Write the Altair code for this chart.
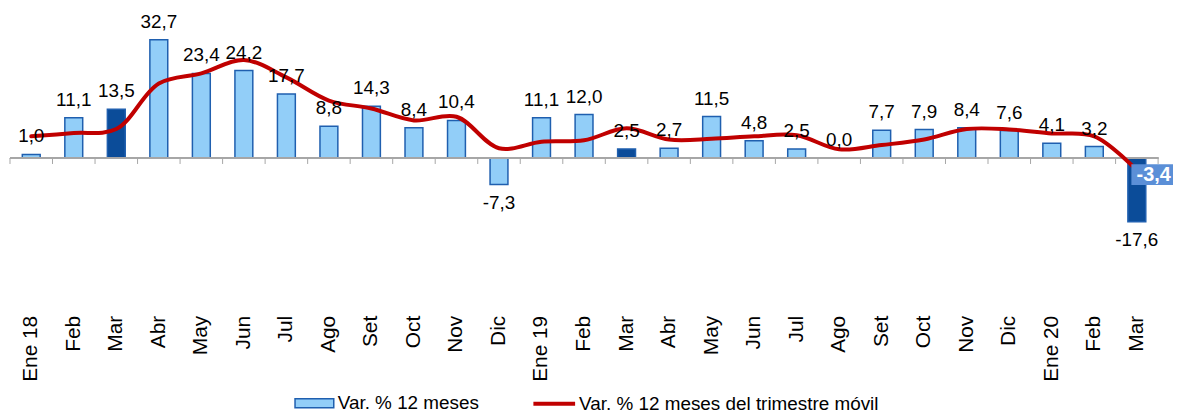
import json
import altair as alt
import pandas as pd

labels = ["Ene 18", "Feb", "Mar", "Abr", "May", "Jun", "Jul", "Ago", "Set", "Oct", "Nov", "Dic",
          "Ene 19", "Feb", "Mar", "Abr", "May", "Jun", "Jul", "Ago", "Set", "Oct", "Nov", "Dic",
          "Ene 20", "Feb", "Mar"]
var12 = [1.0, 11.1, 13.5, 32.7, 23.4, 24.2, 17.7, 8.8, 14.3, 8.4, 10.4, -7.3,
         11.1, 12.0, 2.5, 2.7, 11.5, 4.8, 2.5, 0.0, 7.7, 7.9, 8.4, 7.6,
         4.1, 3.2, -17.6]
trim = [6.0, 6.9, 8.0, 20.6, 23.4, 27.1, 22.3, 15.9, 13.7, 10.4, 11.4, 2.7,
        4.5, 4.9, 8.2, 5.1, 5.3, 6.0, 6.3, 2.4, 3.6, 5.1, 8.0, 7.9,
        6.8, 6.0, -3.4]
highlight = [2, 14, 26]

S1 = "Var. % 12 meses"
S2 = "Var. % 12 meses del trimestre móvil"
FONT = "Liberation Sans"
W, H = 1156, 288
LAST = len(labels) - 1

df = pd.DataFrame({
    "i": list(range(len(labels))),
    "v": var12,
    "t": trim,
    "lab": [f"{v:.1f}".replace(".", ",") for v in var12],
    "tlab": [f"{v:.1f}".replace(".", ",") for v in trim],
    "tipo": [("hl" if k in highlight else S1) for k in range(len(labels))],
    "s2": [S2] * len(labels),
    "zero": [0.0] * len(labels),
    "tlo": [-1.65] * len(labels),
})

label_expr = json.dumps(labels) + "[datum.value]"

x = alt.X("i:O", title=None,
          scale=alt.Scale(paddingInner=0, paddingOuter=0),
          axis=alt.Axis(labelExpr=label_expr, labelAngle=270, domain=False, ticks=False,
                        labelFontSize=21, labelFont=FONT, labelColor="#000000",
                        labelPadding=20))
yscale = alt.Scale(domain=[-38, 41.1], nice=False, zero=False)

base = alt.Chart(df)

bars = base.mark_bar(width=18, stroke="#1F5FAF", strokeWidth=1.5).encode(
    x=x,
    y=alt.Y("v:Q", scale=yscale, axis=None),
    fill=alt.Fill("tipo:N", title=None,
                  scale=alt.Scale(domain=[S1, "hl"], range=["#92CEF8", "#0B4C99"]),
                  legend=alt.Legend(values=[S1], orient="none", legendX=286, legendY=376,
                                    symbolType="M-1,-0.23H1V0.23H-1Z", symbolSize=1521,
                                    symbolStrokeColor="#1F5FAF", symbolStrokeWidth=1.5,
                                    labelFontSize=19, labelFont=FONT, labelColor="#000000",
                                    labelOffset=3, labelLimit=600)),
)

zero_line = base.mark_rule(color="#A6A6A6", strokeWidth=1).encode(
    y=alt.Y("zero:Q"), x=alt.value(0), x2=alt.value(W))

ticks = base.mark_rule(color="#A6A6A6", strokeWidth=1).encode(
    x=alt.X("i:O", bandPosition=0),
    y=alt.Y("zero:Q"), y2=alt.Y2("tlo"))

last = base.transform_filter(f"datum.i == {LAST}")

end_tick = last.mark_rule(color="#A6A6A6", strokeWidth=1).encode(
    x=alt.X("i:O", bandPosition=1),
    y=alt.Y("zero:Q"), y2=alt.Y2("tlo"))

line = base.mark_line(interpolate="catmull-rom", strokeWidth=4, strokeCap="round").encode(
    x=x,
    y=alt.Y("t:Q"),
    stroke=alt.Stroke("s2:N", title=None, scale=alt.Scale(domain=[S2], range=["#C00000"]),
                      legend=alt.Legend(orient="none", legendX=525, legendY=374,
                                        symbolType="stroke", symbolSize=1764, symbolStrokeWidth=4,
                                        labelFontSize=19, labelFont=FONT, labelColor="#000000",
                                        labelOffset=2, labelLimit=600)),
)

pos_labels = base.transform_filter("datum.v >= 0").mark_text(
    baseline="alphabetic", dy=-12, fontSize=19, font=FONT, color="#000000").encode(
    x=x, y=alt.Y("v:Q"), text="lab:N")

neg_labels = base.transform_filter("datum.v < 0").mark_text(
    baseline="top", dy=10, fontSize=19, font=FONT, color="#000000").encode(
    x=x, y=alt.Y("v:Q"), text="lab:N")

box = last.mark_point(shape="M-0.244,-0.276H1.756V0.658H-0.244Z", size=2025, filled=True,
                      opacity=1, color="#5B8FD7").encode(
    x=x, y=alt.Y("t:Q"))

box_text = last.mark_text(align="center", baseline="middle", dx=17, dy=5, fontSize=20,
                          font=FONT, fontWeight="bold", color="#FFFFFF").encode(
    x=x, y=alt.Y("t:Q"), text="tlab:N")

chart = alt.layer(bars, zero_line, ticks, end_tick, line, pos_labels, neg_labels,
                  box, box_text).properties(
    width=W, height=H,
    autosize=alt.AutoSizeParams(type="none"),
    padding={"left": 2, "top": 0, "right": 15, "bottom": 118},
).configure_view(stroke=None)

chart.save("out.html", embed_options={"renderer": "svg", "actions": False})
